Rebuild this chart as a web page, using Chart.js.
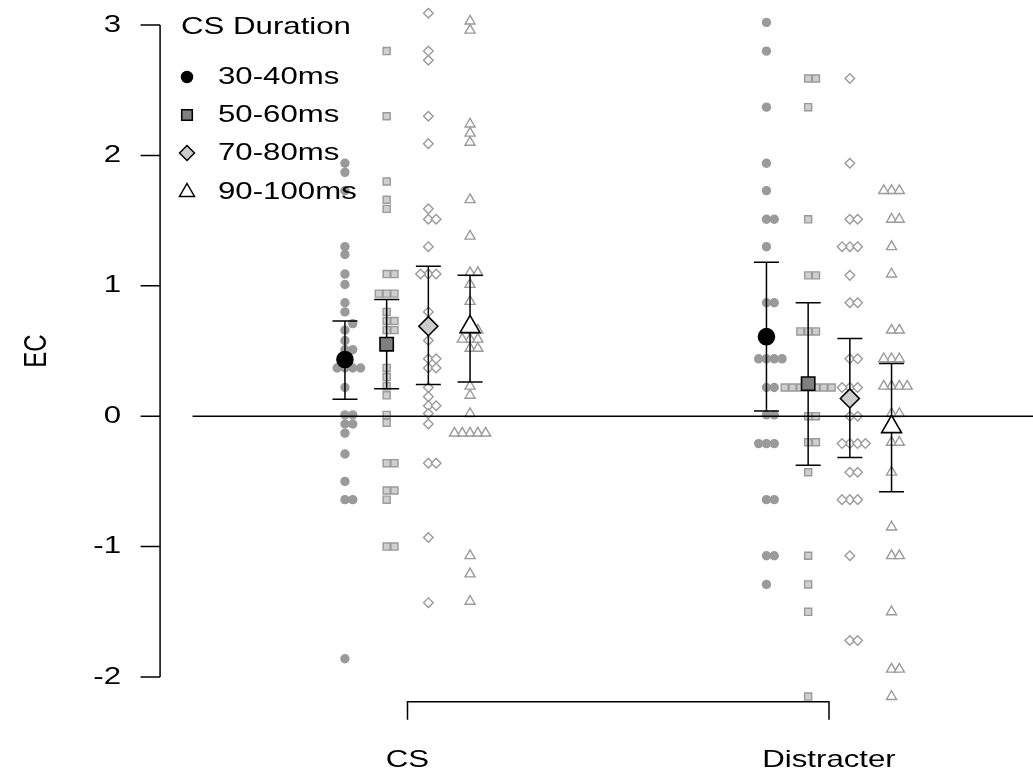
<!DOCTYPE html>
<html>
<head>
<meta charset="utf-8">
<script src="https://cdn.jsdelivr.net/npm/chart.js"></script>
<style>
  html, body { margin: 0; padding: 0; background: #fff; }
  canvas { display: block; }
</style>
</head>
<body>
<canvas id="chart" width="1033" height="778"></canvas>
<script>
// categories
const groups = ['CS', 'Distracter'];
const durations = ['30-40ms', '50-60ms', '70-80ms', '90-100ms'];
const yTicks = [3, 2, 1, 0, -1, -2];

// individual EC scores, CS condition
const cs30 = [1.94, 1.87, 1.73, 1.30, 1.24, 1.09, 1.01, 0.87, 0.80, 0.71, 0.66, 0.58, 0.51, 0.51,
  0.37, 0.37, 0.37, 0.37, 0.22, 0.01, 0.01, -0.06, -0.06, -0.13, -0.29, -0.50, -0.64, -0.64, -1.86];
const cs50 = [2.80, 2.30, 1.80, 1.66, 1.59, 1.09, 1.09, 0.94, 0.94, 0.94, 0.80, 0.73, 0.73, 0.66, 0.66,
  0.37, 0.30, 0.23, 0.16, 0.01, -0.05, -0.36, -0.36, -0.57, -0.57, -0.64, -1.00, -1.00];
const cs70 = [3.09, 2.80, 2.73, 2.30, 2.09, 1.59, 1.51, 1.51, 1.30, 1.09, 1.09, 1.09, 0.80, 0.58,
  0.44, 0.44, 0.37, 0.37, 0.22, 0.15, 0.08, 0.08, 0.02, -0.06, -0.36, -0.36, -0.93, -1.43];
const cs90 = [3.03, 2.96, 2.24, 2.17, 2.10, 1.66, 1.38, 1.10, 1.10, 1.01, 0.88, 0.66, 0.66, 0.59, 0.59,
  0.59, 0.52, 0.52, 0.23, 0.16, 0.02, -0.13, -0.13, -0.13, -0.13, -0.13, -1.07, -1.21, -1.42];

// individual EC scores, Distracter condition
const d30 = [3.02, 2.80, 2.37, 1.94, 1.73, 1.51, 1.51, 1.30, 0.87, 0.87, 0.44, 0.44, 0.44, 0.44,
  0.22, 0.22, 0.01, 0.01, -0.21, -0.21, -0.21, -0.64, -0.64, -1.07, -1.07, -1.29];
const d50 = [2.59, 2.59, 2.37, 1.51, 1.08, 1.08, 0.65, 0.65, 0.65, 0.22, 0.22, 0.22, 0.22, 0.22, 0.22, 0.22,
  0.00, 0.00, -0.20, -0.20, -0.43, -1.07, -1.29, -1.50, -2.15];
const d70 = [2.59, 1.94, 1.51, 1.51, 1.30, 1.30, 1.30, 1.08, 0.87, 0.87, 0.44, 0.44, 0.22, 0.22, 0.22,
  0.00, 0.00, -0.21, -0.21, -0.21, -0.21, -0.43, -0.43, -0.64, -0.64, -0.64, -1.07, -1.72, -1.72];
const d90 = [1.73, 1.73, 1.73, 1.51, 1.51, 1.30, 1.09, 0.66, 0.66, 0.44, 0.44, 0.44, 0.23, 0.23, 0.23, 0.23,
  0.02, 0.02, -0.20, -0.20, -0.43, -0.85, -1.07, -1.07, -1.50, -1.94, -1.94, -2.15];

// means and 95% CI per duration
const csMean = [0.435, 0.552, 0.69, 0.685];
const csLow = [0.13, 0.21, 0.243, 0.263];
const csHigh = [0.73, 0.895, 1.15, 1.08];
const dMean = [0.61, 0.25, 0.136, -0.082];
const dLow = [0.04, -0.376, -0.317, -0.58];
const dHigh = [1.18, 0.87, 0.596, 0.404];

// layout (pixels per data unit etc.)
const X_PX = 421.5, Y_PX = 130.4;
const X_MIN = 1 - 407.5 / X_PX, X_MAX = X_MIN + 1033 / X_PX;
const Y_MAX = 3 + 25 / Y_PX, Y_MIN = Y_MAX - 778 / Y_PX;
const SUB = 41.7 / X_PX;
const STEP_PX = 7.8;
const FONT = '24px "Liberation Sans", Arial, sans-serif';
const STRETCH = 1.3;

const styles = ['circle', 'rect', 'rectRot', 'triangle'];
const rawRadius = [4, 5, 4.8, 5.8];
const rawFill = ['#9a9a9a', '#cfcfcf', '#ffffff', '#ffffff'];
const meanRadius = [8, 9.4, 9.5, 11.5];
const meanFill = ['#000000', '#808080', '#cccccc', '#ffffff'];

const subX = (g, i) => (g + 1) + (i - 1.5) * SUB;

// simple beeswarm: place points in ascending order, slot 0, +1, -1, +2, ...
function swarm(values, xCenter) {
  const placed = [];
  const out = new Array(values.length);
  const idx = values.map((v, i) => i).sort((a, b) => values[a] - values[b]);
  idx.forEach(i => {
    const py = values[i] * Y_PX;
    for (let k = 0; k < 40; k++) {
      const slot = k === 0 ? 0 : (k % 2 ? (k + 1) / 2 : -k / 2);
      const px = slot * STEP_PX;
      const hit = placed.some(p => Math.hypot(p.px - px, p.py - py) < STEP_PX - 0.3);
      if (!hit) {
        placed.push({ px, py });
        out[i] = { x: xCenter + px / X_PX, y: values[i] };
        break;
      }
    }
  });
  return out;
}

const csRaw = [cs30, cs50, cs70, cs90];
const dRaw = [d30, d50, d70, d90];

const datasets = [];
durations.forEach((name, i) => {
  datasets.push({
    label: name + ' raw',
    data: swarm(csRaw[i], subX(0, i)).concat(swarm(dRaw[i], subX(1, i))),
    pointStyle: styles[i],
    pointRadius: rawRadius[i],
    pointBackgroundColor: rawFill[i],
    pointBorderColor: '#9a9a9a',
    pointBorderWidth: 1.4,
    order: 2
  });
});
durations.forEach((name, i) => {
  datasets.push({
    label: name,
    isMean: true,
    data: [{ x: subX(0, i), y: csMean[i] }, { x: subX(1, i), y: dMean[i] }],
    pointStyle: styles[i],
    pointRadius: meanRadius[i],
    pointBackgroundColor: meanFill[i],
    pointBorderColor: '#000000',
    pointBorderWidth: 1.6,
    order: 1
  });
});

function stretchedText(ctx, text, x, y, align, rot) {
  ctx.save();
  ctx.translate(x, y);
  ctx.scale(STRETCH, 1);
  if (rot) ctx.rotate(rot);
  ctx.textAlign = align;
  ctx.textBaseline = 'middle';
  ctx.fillText(text, 0, 0);
  ctx.restore();
}

// error bars and zero line go between raw points and the means
const barsPlugin = {
  id: 'bars',
  beforeDatasetsDraw(chart) { chart.$barsDone = false; },
  beforeDatasetDraw(chart, args) {
    if (chart.$barsDone || !chart.data.datasets[args.index].isMean) return;
    chart.$barsDone = true;
    const ctx = chart.ctx, xs = chart.scales.x, ys = chart.scales.y;
    ctx.save();
    ctx.strokeStyle = '#000';
    ctx.lineWidth = 1.5;
    // zero line
    ctx.beginPath();
    ctx.moveTo(xs.getPixelForValue(0.49), ys.getPixelForValue(0));
    ctx.lineTo(chart.chartArea.right, ys.getPixelForValue(0));
    ctx.stroke();
    const lows = [csLow, dLow], highs = [csHigh, dHigh];
    [0, 1].forEach(g => {
      durations.forEach((d, i) => {
        const x = xs.getPixelForValue(subX(g, i));
        const lo = ys.getPixelForValue(lows[g][i]);
        const hi = ys.getPixelForValue(highs[g][i]);
        ctx.beginPath();
        ctx.moveTo(x, lo); ctx.lineTo(x, hi);
        ctx.moveTo(x - 12.5, lo); ctx.lineTo(x + 12.5, lo);
        ctx.moveTo(x - 12.5, hi); ctx.lineTo(x + 12.5, hi);
        ctx.stroke();
      });
    });
    ctx.restore();
  }
};

// axes, labels and legend drawn the R way
const axesPlugin = {
  id: 'axes',
  afterDraw(chart) {
    const ctx = chart.ctx, xs = chart.scales.x, ys = chart.scales.y;
    ctx.save();
    ctx.strokeStyle = '#000';
    ctx.fillStyle = '#000';
    ctx.lineWidth = 1.5;
    ctx.font = FONT;

    // y axis
    const ax = xs.getPixelForValue(0.413);
    ctx.beginPath();
    ctx.moveTo(ax, ys.getPixelForValue(yTicks[0]));
    ctx.lineTo(ax, ys.getPixelForValue(yTicks[yTicks.length - 1]));
    yTicks.forEach(t => {
      const y = ys.getPixelForValue(t);
      ctx.moveTo(ax - 19.5, y); ctx.lineTo(ax, y);
    });
    ctx.stroke();
    yTicks.forEach(t => stretchedText(ctx, String(t), ax - 39, ys.getPixelForValue(t), 'right'));
    stretchedText(ctx, 'EC', 37, (ys.getPixelForValue(3) + ys.getPixelForValue(-2)) / 2, 'center', -Math.PI / 2);

    // x bracket axis
    const by = ys.getPixelForValue(-2.19);
    const x1 = xs.getPixelForValue(1), x2 = xs.getPixelForValue(2);
    ctx.beginPath();
    ctx.moveTo(x1, by + 18); ctx.lineTo(x1, by); ctx.lineTo(x2, by); ctx.lineTo(x2, by + 18);
    ctx.stroke();
    groups.forEach((g, i) => stretchedText(ctx, g, xs.getPixelForValue(i + 1), by + 59, 'center'));

    // legend
    stretchedText(ctx, 'CS Duration', 181, 27, 'left');
    const ly = [77, 115, 153, 192];
    durations.forEach((d, i) => {
      const cx = 187, cy = ly[i];
      ctx.beginPath();
      if (i === 0) {
        ctx.arc(cx, cy, 5.5, 0, Math.PI * 2);
      } else if (i === 1) {
        ctx.rect(cx - 5.3, cy - 5.3, 10.6, 10.6);
      } else if (i === 2) {
        ctx.moveTo(cx - 7.5, cy); ctx.lineTo(cx, cy - 7.5); ctx.lineTo(cx + 7.5, cy); ctx.lineTo(cx, cy + 7.5);
        ctx.closePath();
      } else {
        ctx.moveTo(cx, cy - 8.5); ctx.lineTo(cx + 7.5, cy + 4.5); ctx.lineTo(cx - 7.5, cy + 4.5);
        ctx.closePath();
      }
      ctx.fillStyle = meanFill[i];
      ctx.fill();
      ctx.lineWidth = 1.5;
      ctx.stroke();
      ctx.fillStyle = '#000';
      stretchedText(ctx, d, 218, cy, 'left');
    });
    ctx.restore();
  }
};

new Chart(document.getElementById('chart'), {
  type: 'scatter',
  data: { datasets },
  options: {
    responsive: false,
    animation: false,
    devicePixelRatio: 1,
    events: [],
    layout: { padding: 0, autoPadding: false },
    scales: {
      x: { type: 'linear', min: X_MIN, max: X_MAX, display: false },
      y: { type: 'linear', min: Y_MIN, max: Y_MAX, display: false }
    },
    plugins: { legend: { display: false }, tooltip: { enabled: false } }
  },
  plugins: [barsPlugin, axesPlugin]
});
</script>
</body>
</html>
